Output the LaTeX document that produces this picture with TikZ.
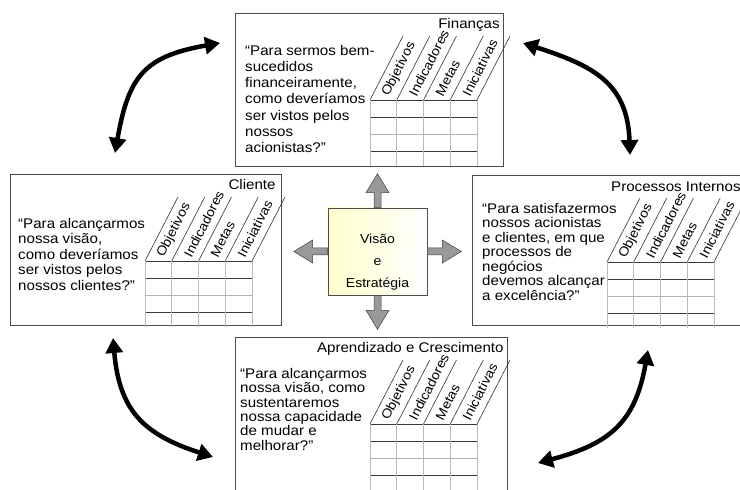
\documentclass[tikz,border=0pt]{standalone}
\usepackage{fontspec}
\setmainfont{Liberation Sans}[FakeStretch=1.08]
\usepackage{tikz}
\usetikzlibrary{arrows.meta}
\usetikzlibrary{positioning}

\begin{document}
\begin{tikzpicture}[x=1pt,y=1pt,
	caixa/.style={draw=gray!60!black,line width=0.8pt,fill=white,anchor=north west,inner sep=0pt},
	pergunta/.style={align=left,inner sep=0pt},
	titulo/.style={inner sep=0pt,font=\fontsize{14}{16}\selectfont},
	rotulo/.style={anchor=west,rotate=63,inner sep=0pt,font=\fontsize{13}{15}\selectfont},
	grossa/.style={draw=gray!45!black,line width=0.9pt},
	fina/.style={draw=gray!60,line width=0.6pt},
	coluna/.style={draw=gray!55,line width=0.8pt},
	diagonal/.style={draw=gray!40!black,line width=0.6pt},
	seta/.style={draw=gray!50!black,line width=0.5pt},
	vert/.style={left color=gray!80,middle color=gray!10,right color=gray!80},
	horiz/.style={top color=gray!80,middle color=gray!10,bottom color=gray!80},
	curva/.style={line width=4.5pt,{Triangle[length=15pt,width=17pt]}-{Triangle[length=15pt,width=17pt]}}]
		\useasboundingbox (0,0) rectangle (740,490);
		\clip (0,0) rectangle (740,490);
		% as quatro perspectivas
		\node[caixa,minimum width=268pt,minimum height=153pt] (financas) at (235,477) {};
		\node[caixa,minimum width=271pt,minimum height=151pt] (cliente) at (10,316) {};
		\node[caixa,minimum width=272pt,minimum height=150pt] (processos) at (472,315) {};
		\node[caixa,minimum width=272pt,minimum height=160pt] (aprendizado) at (235,153) {};
		\node[titulo,below left=16pt and 4pt of financas.north east,anchor=base east] (tfinancas) {Finanças};
		\node[titulo,below left=16pt and 6pt of cliente.north east,anchor=base east] (tcliente) {Cliente};
		\node[titulo,below left=17pt and 4pt of processos.north east,anchor=base east] (tprocessos) {Processos Internos};
		\node[titulo,below left=16pt and 4pt of aprendizado.north east,anchor=base east] (taprendizado) {Aprendizado e Crescimento};
		\node[pergunta,below right=32pt and 10pt of financas.north west,font=\fontsize{14}{16.2}\selectfont] (qfinancas) {“Para sermos bem-\\sucedidos\\financeiramente,\\como deveríamos\\ser vistos pelos\\nossos\\acionistas?”};
		\node[pergunta,below right=44pt and 8pt of cliente.north west,font=\fontsize{14}{15.5}\selectfont] (qcliente) {“Para alcançarmos\\nossa visão,\\como deveríamos\\ser vistos pelos\\nossos clientes?”};
		\node[pergunta,below right=28pt and 10pt of processos.north west,font=\fontsize{14}{14.5}\selectfont] (qprocessos) {“Para satisfazermos\\nossos acionistas\\e clientes, em que\\processos de\\negócios\\devemos alcançar\\a excelência?”};
		\node[pergunta,below right=31pt and 5pt of aprendizado.north west,font=\fontsize{14}{14.4}\selectfont] (qaprendizado) {“Para alcançarmos\\nossa visão, como\\sustentaremos\\nossa capacidade\\de mudar e\\melhorar?”};
		% tabelas
		\foreach \b in {financas,cliente,processos,aprendizado}{
			\begin{scope}[shift={(\b.north west)}]
				\draw[grossa] (135,-87) -- (242,-87);
				\foreach \y/\s in {104/grossa,121/fina,138/grossa}
					\draw[\s] (135,-\y) -- (242,-\y);
				\foreach \i in {0,...,4}{
					\draw[coluna] (135+26.75*\i,-87) -- (135+26.75*\i,-153);
					\draw[diagonal] (135+26.75*\i,-87) -- ++(33,64);
				}
				\foreach \t [count=\i from 0] in {Objetivos,Indicadores,Metas,Iniciativas}
					\node[rotulo] (\b-\i) at (150.6+26.75*\i,-82.5) {\t};
			\end{scope}
		}
		% centro
		\node[draw=gray!60!black,line width=0.6pt,left color=yellow!20,right color=white,minimum width=99pt,minimum height=87pt] (visao) at (377.5,238.5) {};
		\node[align=center,inner sep=0pt,font=\fontsize{13}{22}\selectfont] (tvisao) at ([yshift=-10.5pt]visao.center) {Visão\\e\\Estratégia};
		\foreach \anc/\ang/\tom in {north/90/vert,south/-90/vert,east/0/horiz,west/180/horiz}
			\shade[seta,\tom,shift={(visao.\anc)},rotate=\ang] (0,3.5) -- (15,3.5) -- (15,11.5) -- (34,0) -- (15,-11.5) -- (15,-3.5) -- (0,-3.5) -- cycle;
		% setas curvas
		\coordinate (c1) at (115,337);
		\coordinate (c2) at (220,447);
		\coordinate (c3) at (523,447);
		\coordinate (c4) at (630,335);
		\coordinate (c5) at (113,152);
		\coordinate (c6) at (213,33);
		\coordinate (c7) at (648,140);
		\coordinate (c8) at (538,27);
		\draw[curva] (c1) to[out=80,in=190,looseness=1.3] (c2);
		\draw[curva] (c4) to[out=92,in=-18,looseness=1.2] (c3);
		\draw[curva] (c5) to[out=-85,in=162,looseness=1.2] (c6);
		\draw[curva] (c7) to[out=-100,in=15,looseness=1.2] (c8);
	\end{tikzpicture}
\end{document}
